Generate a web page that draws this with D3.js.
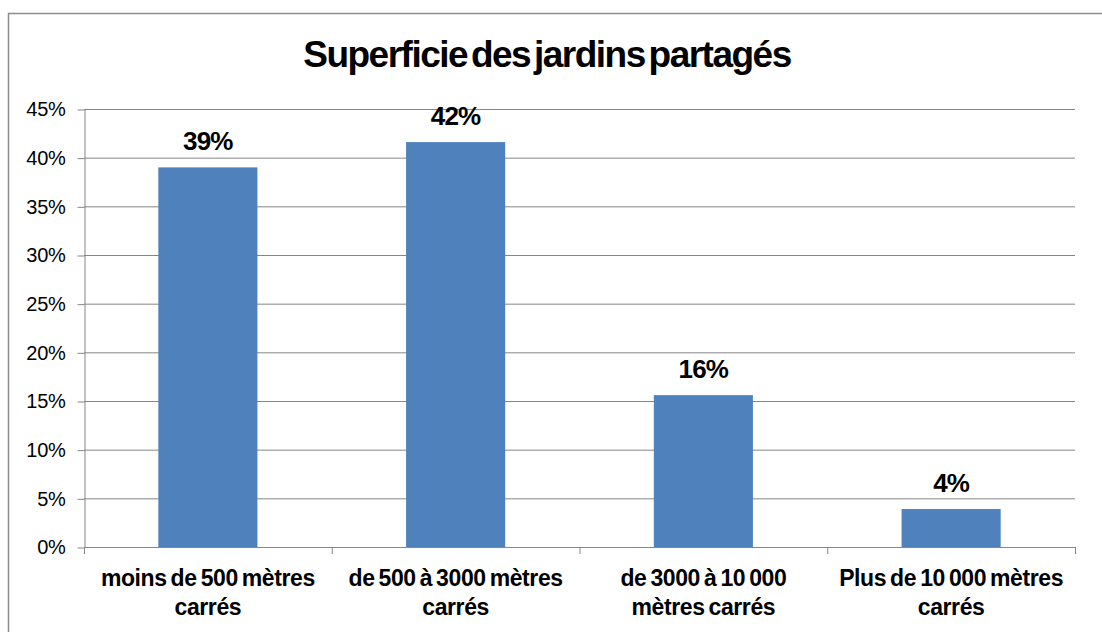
<!DOCTYPE html>
<html>
<head>
<meta charset="utf-8">
<script src="https://cdn.jsdelivr.net/npm/d3@7"></script>
<style>
  body { margin: 0; background: #fff; }
  svg { display: block; font-family: "Liberation Sans", Arial, sans-serif; }
</style>
</head>
<body>
<div id="chart"></div>
<script>
const title = "Superficie des jardins partagés";
const categories = [
    ["moins de 500 mètres", "carrés"],
    ["de 500 à 3000 mètres", "carrés"],
    ["de 3000 à 10 000", "mètres carrés"],
    ["Plus de 10 000 mètres", "carrés"]
];
const values = [0.39, 0.416, 0.156, 0.039];
const labels = ["39%", "42%", "16%", "4%"];
const yTicks = [0, 0.05, 0.10, 0.15, 0.20, 0.25, 0.30, 0.35, 0.40, 0.45];

document.addEventListener("DOMContentLoaded", function () {
    const width = 1102;
    const height = 632;
    const plot = { left: 84, right: 1075, top: 109, bottom: 547 };

    const svg = d3.select("#chart").append("svg")
        .attr("width", width)
        .attr("height", height);

    // cadre du graphique
    svg.append("rect")
        .attr("x", 8.5).attr("y", 13.5)
        .attr("width", width).attr("height", height)
        .attr("fill", "none")
        .attr("stroke", "#8c8c8c")
        .attr("stroke-width", 1.5);

    svg.append("text")
        .attr("x", 547).attr("y", 67)
        .attr("text-anchor", "middle")
        .style("font-size", "37px")
        .style("font-weight", "bold")
        .style("letter-spacing", "-1.5px")
        .style("word-spacing", "-5px")
        .text(title);

    const x = d3.scaleBand()
        .domain(categories.map((d, i) => i))
        .range([plot.left, plot.right])
        .paddingInner(0.6)
        .paddingOuter(0.3);

    const xCat = d3.scaleBand()
        .domain(categories.map((d, i) => i))
        .range([plot.left, plot.right]);

    const y = d3.scaleLinear()
        .domain([0, 0.45])
        .range([plot.bottom, plot.top]);

    // grille horizontale
    svg.append("g")
        .selectAll("line")
        .data(yTicks.slice(1))
        .enter()
        .append("line")
        .attr("x1", plot.left).attr("x2", plot.right)
        .attr("y1", d => y(d) + 0.5).attr("y2", d => y(d) + 0.5)
        .attr("stroke", "#868686")
        .attr("stroke-width", 1);

    // axe Y
    const yAxis = svg.append("g")
        .attr("transform", `translate(${plot.left + 0.5},0.5)`)
        .call(d3.axisLeft(y).tickValues(yTicks).tickFormat(d3.format(".0%")).tickSizeInner(7).tickSizeOuter(0).tickPadding(12));
    yAxis.select(".domain").attr("stroke", "#868686");
    yAxis.selectAll(".tick line").attr("stroke", "#868686");
    yAxis.selectAll("text")
        .style("font-size", "20px")
        .style("letter-spacing", "-0.3px")
        .attr("fill", "#000");

    // barres
    svg.selectAll(".bar")
        .data(values)
        .enter()
        .append("rect")
        .attr("class", "bar")
        .attr("x", (d, i) => x(i))
        .attr("y", d => y(d))
        .attr("width", x.bandwidth())
        .attr("height", d => y(0) - y(d))
        .attr("fill", "#4f81bd");

    // axe X
    const xAxisG = svg.append("g");
    xAxisG.append("line")
        .attr("x1", plot.left).attr("x2", plot.right + 1)
        .attr("y1", plot.bottom + 0.5).attr("y2", plot.bottom + 0.5)
        .attr("stroke", "#868686");
    xAxisG.selectAll(".xtick")
        .data(d3.range(categories.length + 1))
        .enter()
        .append("line")
        .attr("x1", i => i < categories.length ? xCat(i) + 0.5 : plot.right + 0.5)
        .attr("x2", i => i < categories.length ? xCat(i) + 0.5 : plot.right + 0.5)
        .attr("y1", plot.bottom).attr("y2", plot.bottom + 7)
        .attr("stroke", "#868686");

    const catText = svg.selectAll(".cat")
        .data(categories)
        .enter()
        .append("text")
        .attr("class", "cat")
        .attr("text-anchor", "middle")
        .style("font-size", "23px")
        .style("font-weight", "bold")
        .style("letter-spacing", "-0.4px")
        .style("word-spacing", "-2px");
    catText.each(function (lines, i) {
        const t = d3.select(this);
        lines.forEach((line, j) => {
            t.append("tspan")
                .attr("x", x(i) + x.bandwidth() / 2)
                .attr("y", 586 + j * 29)
                .text(line);
        });
    });

    // étiquettes de valeur
    svg.selectAll(".label")
        .data(values)
        .enter()
        .append("text")
        .attr("class", "label")
        .attr("x", (d, i) => x(i) + x.bandwidth() / 2)
        .attr("y", d => y(d) - 17)
        .attr("text-anchor", "middle")
        .style("font-size", "26px")
        .style("font-weight", "bold")
        .style("letter-spacing", "-0.8px")
        .text((d, i) => labels[i]);
});
</script>
</body>
</html>
